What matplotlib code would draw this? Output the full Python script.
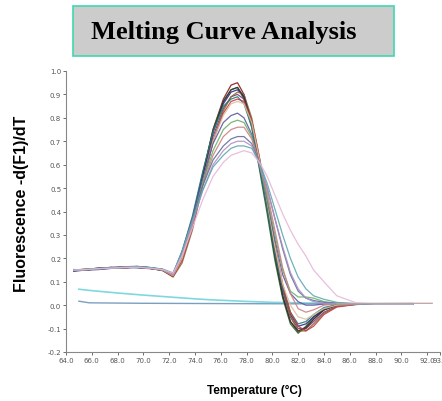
import matplotlib
matplotlib.use('Agg')
import matplotlib.pyplot as plt
from matplotlib.patches import Rectangle

# temperature grid shared by the sample curves
temps = [64.6, 65.5, 66.5, 67.5, 68.5, 69.5, 70.5, 71.5, 72.3, 73.0, 73.8, 74.6, 75.4, 76.2, 76.8, 77.3,
         77.8, 78.4, 79.0, 79.6, 80.2, 80.8, 81.4, 82.0, 82.6, 83.2, 84.0, 85.0, 86.5, 88.0, 90.0, 90.9]

samples = {
    '#8b1a1a': [0.150, 0.152, 0.158, 0.160, 0.162, 0.165, 0.160, 0.150, 0.122, 0.20, 0.35, 0.55, 0.75, 0.88, 0.94, 0.95,
                0.90, 0.78, 0.60, 0.41, 0.21, 0.04, -0.07, -0.115, -0.10, -0.06, -0.02, 0.000, 0.004, 0.005, 0.004, 0.004],
    '#2e6b2e': [0.148, 0.150, 0.155, 0.158, 0.160, 0.163, 0.158, 0.148, 0.125, 0.21, 0.36, 0.56, 0.75, 0.87, 0.92, 0.93,
                0.88, 0.76, 0.58, 0.39, 0.19, 0.03, -0.08, -0.12, -0.09, -0.05, -0.015, 0.002, 0.005, 0.005, 0.004, 0.004],
    '#2b2b7a': [0.145, 0.150, 0.152, 0.157, 0.160, 0.160, 0.156, 0.150, 0.128, 0.22, 0.37, 0.56, 0.74, 0.86, 0.91, 0.92,
                0.89, 0.78, 0.61, 0.43, 0.24, 0.07, -0.04, -0.09, -0.08, -0.05, -0.02, 0.000, 0.005, 0.005, 0.005, 0.005],
    '#7a3a7a': [0.152, 0.150, 0.156, 0.162, 0.158, 0.164, 0.160, 0.152, 0.126, 0.20, 0.34, 0.53, 0.72, 0.84, 0.89, 0.90,
                0.88, 0.78, 0.61, 0.42, 0.23, 0.06, -0.05, -0.10, -0.10, -0.07, -0.03, -0.005, 0.004, 0.005, 0.005, 0.005],
    '#8a6a3a': [0.150, 0.154, 0.157, 0.160, 0.161, 0.162, 0.158, 0.147, 0.120, 0.18, 0.32, 0.51, 0.70, 0.83, 0.89, 0.91,
                0.90, 0.80, 0.63, 0.44, 0.25, 0.08, -0.05, -0.11, -0.11, -0.08, -0.035, -0.005, 0.003, 0.005, 0.005, 0.005],
    '#333333': [0.147, 0.151, 0.156, 0.159, 0.163, 0.161, 0.157, 0.149, 0.124, 0.20, 0.35, 0.55, 0.74, 0.87, 0.92, 0.93,
                0.89, 0.78, 0.60, 0.41, 0.21, 0.04, -0.07, -0.11, -0.095, -0.06, -0.02, 0.000, 0.004, 0.005, 0.005, 0.005],
    '#2a7a7a': [0.150, 0.153, 0.158, 0.160, 0.164, 0.166, 0.160, 0.152, 0.130, 0.23, 0.38, 0.57, 0.74, 0.85, 0.88, 0.89,
                0.86, 0.76, 0.59, 0.41, 0.22, 0.07, -0.03, -0.08, -0.07, -0.04, -0.01, 0.002, 0.005, 0.005, 0.005, 0.005],
    '#c04040': [0.149, 0.152, 0.155, 0.161, 0.160, 0.163, 0.159, 0.150, 0.123, 0.19, 0.33, 0.52, 0.70, 0.82, 0.87, 0.88,
                0.87, 0.79, 0.63, 0.45, 0.26, 0.09, -0.03, -0.09, -0.11, -0.09, -0.04, -0.008, 0.003, 0.005, 0.005, 0.005],
    '#e0c0a0': [0.150, 0.152, 0.156, 0.159, 0.161, 0.163, 0.158, 0.150, 0.126, 0.20, 0.35, 0.53, 0.70, 0.81, 0.86, 0.87,
                0.86, 0.78, 0.62, 0.44, 0.25, 0.09, 0.00, -0.05, -0.06, -0.04, -0.015, 0.000, 0.004, 0.005, 0.005, 0.005],
    '#5a5aa0': [0.152, 0.150, 0.157, 0.160, 0.162, 0.164, 0.161, 0.153, 0.132, 0.22, 0.37, 0.54, 0.69, 0.78, 0.81, 0.82,
                0.80, 0.73, 0.60, 0.45, 0.28, 0.13, 0.05, 0.015, 0.000, 0.000, 0.005, 0.008, 0.006, 0.005, 0.005, 0.005],
    '#6ab06a': [0.150, 0.153, 0.156, 0.158, 0.162, 0.163, 0.159, 0.151, 0.130, 0.22, 0.36, 0.52, 0.66, 0.75, 0.78, 0.79,
                0.78, 0.72, 0.60, 0.46, 0.30, 0.15, 0.06, 0.035, 0.035, 0.03, 0.015, 0.008, 0.005, 0.005, 0.005, 0.005],
    '#d08080': [0.148, 0.151, 0.155, 0.160, 0.160, 0.162, 0.158, 0.150, 0.128, 0.21, 0.35, 0.51, 0.64, 0.72, 0.75, 0.76,
                0.76, 0.71, 0.61, 0.48, 0.32, 0.16, 0.05, -0.015, -0.03, -0.02, 0.000, 0.005, 0.005, 0.005, 0.005, 0.005],
    '#6070a0': [0.151, 0.152, 0.157, 0.161, 0.161, 0.165, 0.160, 0.152, 0.134, 0.23, 0.37, 0.51, 0.62, 0.68, 0.71, 0.72,
                0.72, 0.69, 0.61, 0.50, 0.37, 0.24, 0.13, 0.06, 0.03, 0.02, 0.012, 0.008, 0.005, 0.005, 0.005, 0.005],
    '#b090c0': [0.149, 0.151, 0.156, 0.159, 0.162, 0.163, 0.160, 0.151, 0.130, 0.22, 0.35, 0.49, 0.60, 0.66, 0.69, 0.70,
                0.70, 0.68, 0.60, 0.50, 0.37, 0.25, 0.14, 0.07, 0.03, 0.015, 0.008, 0.006, 0.005, 0.005, 0.005, 0.005],
    '#60a8b0': [0.150, 0.152, 0.155, 0.158, 0.160, 0.164, 0.161, 0.154, 0.138, 0.23, 0.36, 0.49, 0.59, 0.64, 0.67, 0.68,
                0.68, 0.67, 0.61, 0.52, 0.41, 0.30, 0.20, 0.12, 0.07, 0.04, 0.025, 0.012, 0.006, 0.005, 0.005, 0.005],
    '#e6b8d8': [0.150, 0.152, 0.156, 0.158, 0.161, 0.162, 0.158, 0.152, 0.136, 0.21, 0.33, 0.45, 0.55, 0.61, 0.64, 0.65,
                0.66, 0.65, 0.61, 0.55, 0.47, 0.39, 0.32, 0.26, 0.21, 0.15, 0.10, 0.04, 0.01, 0.005, 0.005, 0.005],
}

# one long gray tail that reaches past 92
tail_t = [85.0, 88.0, 90.9, 92.4]
tail_v = [0.006, 0.007, 0.008, 0.008]

# no-template controls
ntc1_t = [65.0, 66.0, 68.0, 70.0, 72.0, 74.0, 75.2, 78.0, 80.0, 84.0, 88.0, 90.9]
ntc1_v = [0.068, 0.062, 0.052, 0.043, 0.035, 0.027, 0.023, 0.016, 0.012, 0.008, 0.007, 0.007]
ntc2_t = [65.0, 65.8, 70.0, 80.0, 90.9]
ntc2_v = [0.017, 0.010, 0.008, 0.006, 0.005]

xticks = [64, 66, 68, 70, 72, 74, 76, 78, 80, 82, 84, 86, 88, 90, 92, 93]
yticks = [-0.2, -0.1, 0.0, 0.1, 0.2, 0.3, 0.4, 0.5, 0.6, 0.7, 0.8, 0.9, 1.0]

fig = plt.figure(figsize=(4.42, 4.02), dpi=100)
ax = fig.add_axes([66 / 442, 49 / 402, 374 / 442, 281 / 402])

ax.plot(ntc1_t, ntc1_v, color='#7fd8e0', lw=1.2)
ax.plot(ntc2_t, ntc2_v, color='#7aa0c0', lw=1.0)
for col, vals in samples.items():
    ax.plot(temps, vals, color=col, lw=0.9, alpha=0.9)
ax.plot(tail_t, tail_v, color='#c0a0a0', lw=0.9)

ax.set_xlim(64, 93)
ax.set_ylim(-0.2, 1.0)
ax.set_xticks(xticks)
ax.set_xticklabels(['%.1f' % t for t in xticks])
ax.set_yticks(yticks)
ax.set_yticklabels(['%.1f' % v for v in yticks])
ax.tick_params(labelsize=5, colors='#555555', length=2, width=0.6, pad=1.5)
for s in ['top', 'right']:
    ax.spines[s].set_visible(False)
for s in ['left', 'bottom']:
    ax.spines[s].set_color('#888888')
    ax.spines[s].set_linewidth(0.8)

fig.text(22 / 442, 1 - 204 / 402, 'Fluorescence -d(F1)/dT', rotation=90, ha='center', va='center',
         fontsize=11.5, fontweight='bold', family='Liberation Sans')
fig.text(254 / 442, 1 - 391 / 402, 'Temperature (°C)', ha='center', va='center',
         fontsize=8.5, fontweight='bold', family='Liberation Sans')

# title box
fig.patches.append(Rectangle((73 / 442, 1 - 57 / 402), 321 / 442, 50 / 402, transform=fig.transFigure,
                             facecolor='#cccccc', edgecolor='#40d8b0', lw=1.2))
fig.text(91 / 442, 1 - 32 / 402, 'Melting Curve Analysis', ha='left', va='center',
         fontsize=19, fontweight='bold', family='Liberation Serif')

plt.savefig('out.png', dpi=100)
